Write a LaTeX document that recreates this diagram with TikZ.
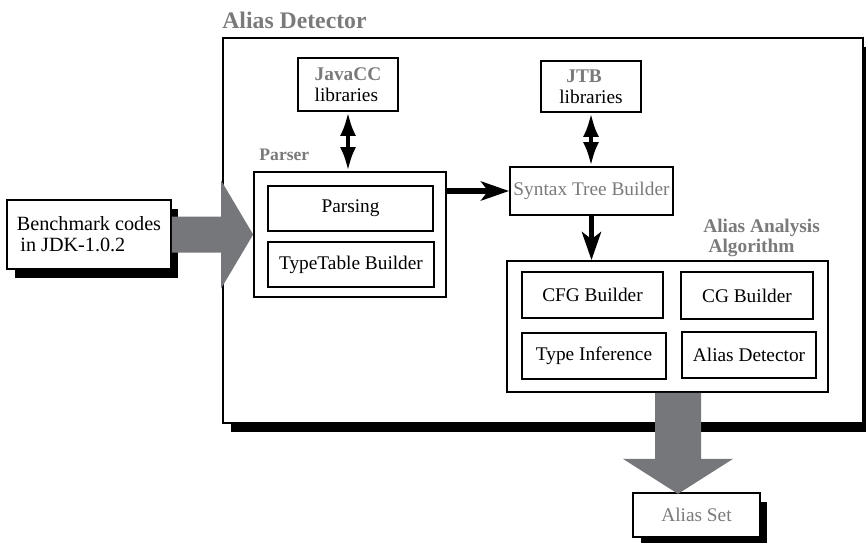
\documentclass[tikz,border=0pt]{standalone}
\usepackage{fontspec}
\setmainfont{Liberation Serif}
\usepackage{xcolor}
\usetikzlibrary{arrows.meta, positioning, calc, shadows}

\definecolor{labelgray}{RGB}{122,122,124}
\definecolor{blockgray}{RGB}{118,119,122}

\begin{document}
\begin{tikzpicture}[
    x=0.02cm, y=-0.02cm,
    box/.style={rectangle, draw, line width=1pt, fill=white, align=center, font=\fontsize{11}{12}\selectfont, inner sep=2pt},
    frame/.style={rectangle, draw, line width=1pt},
    shadowed/.style={drop shadow={shadow xshift=0.15cm, shadow yshift=-0.18cm, opacity=1, fill=black}},
    graylabel/.style={text=labelgray, font=\bfseries\fontsize{11}{11.5}\selectfont, align=left, inner sep=0pt},
    flow/.style={-{Stealth[length=0.56cm, width=0.38cm, inset=0.14cm]}, line width=3pt},
    twoway/.style={{Latex[length=0.48cm, width=0.32cm]}-{Latex[length=0.48cm, width=0.32cm]}, line width=2.6pt},
    blockarrow/.style={fill=blockgray}
]
\useasboundingbox (0,0) rectangle (866,542);

% Tool boundary
\node[frame, line width=1.5pt, fill=white, shadowed, minimum width=12.8cm, minimum height=7.7cm] (detector) at (543,230.5) {};
\node[graylabel, font=\bfseries\fontsize{13.5}{15}\selectfont, anchor=base west] (title) at (222,28) {Alias Detector};

% Input programs
\node[box, shadowed, minimum width=3.28cm, minimum height=1.38cm, align=left, font=\fontsize{11.5}{12}\selectfont] (bench) at (89,234.5) {Benchmark codes\\\hspace*{2pt}in JDK-1.0.2};

% Libraries
\node[box, minimum width=2cm, minimum height=1.06cm, align=left] (javacc) at (348,84.5) {\textcolor{labelgray}{\textbf{JavaCC}}\\libraries};
\node[box, minimum width=2cm, minimum height=1.02cm, align=left] (jtb) at (591,86.5) {\hspace*{4pt}\textcolor{labelgray}{\textbf{JTB}}\\libraries};

% Parser
\node[frame, minimum width=3.84cm, minimum height=2.5cm] (parser) at (350,234.5) {};
\node[graylabel, font=\bfseries\fontsize{10}{12}\selectfont, anchor=base west] (parserlabel) at ($(parser.north west)+(6,-11)$) {Parser};
\node[box, minimum width=3.3cm, minimum height=0.9cm] (parsing) at (350.5,208.5) {Parsing};
\node[box, minimum width=3.32cm, minimum height=0.9cm] (typetable) at (351,264.5) {TypeTable Builder};

% Syntax tree
\node[box, text=labelgray, minimum width=3.22cm, minimum height=0.96cm] (stb) at (591.5,191) {Syntax Tree Builder};

% Analysis
\node[frame, minimum width=6.42cm, minimum height=2.62cm] (analysis) at (667.5,326.5) {};
\node[graylabel, anchor=north west] (analysislabel) at (703,219) {Alias Analysis\\\hspace*{3pt}Algorithm};
\node[box, minimum width=2.82cm, minimum height=0.92cm] (cfg) at (592.5,295) {CFG Builder};
\node[box, minimum width=2.64cm, minimum height=0.94cm] (cg) at (747,295.5) {CG Builder};
\node[box, minimum width=2.88cm, minimum height=0.92cm] (typeinf) at (594,356) {Type Inference};
\node[box, minimum width=2.68cm, minimum height=0.92cm] (aliasdet) at (749,355) {Alias Detector};

% Result
\node[box, shadowed, text=labelgray, minimum width=2.54cm, minimum height=0.88cm] (aliasset) at (696.5,515) {Alias Set};

% Connections
\draw[twoway] (javacc.south) -- (javacc.south |- parser.north);
\draw[twoway] (jtb.south) -- (jtb.south |- stb.north);
\draw[flow] (parser.east |- stb.west) -- (stb.west);
\draw[flow] (stb.south) -- (stb.south |- analysis.north);

% Big input and output arrows
\fill[blockarrow] ($(bench.east)+(0,-18)$) -- ($(parser.west)+(-32,-18)$) -- ($(parser.west)+(-32,-54)$) -- (parser.west)
    -- ($(parser.west)+(-32,54)$) -- ($(parser.west)+(-32,18)$) -- ($(bench.east)+(0,18)$) -- cycle;
\fill[blockarrow] ($(analysis.south)+(-12.5,0)$) -- ($(analysis.south)+(-12.5,66)$) -- ($(analysis.south)+(-44.5,66)$)
    -- ($(analysis.south)+(10.5,101)$) -- ($(analysis.south)+(65.5,66)$) -- ($(analysis.south)+(33.5,66)$) -- ($(analysis.south)+(33.5,0)$) -- cycle;

\end{tikzpicture}
\end{document}
